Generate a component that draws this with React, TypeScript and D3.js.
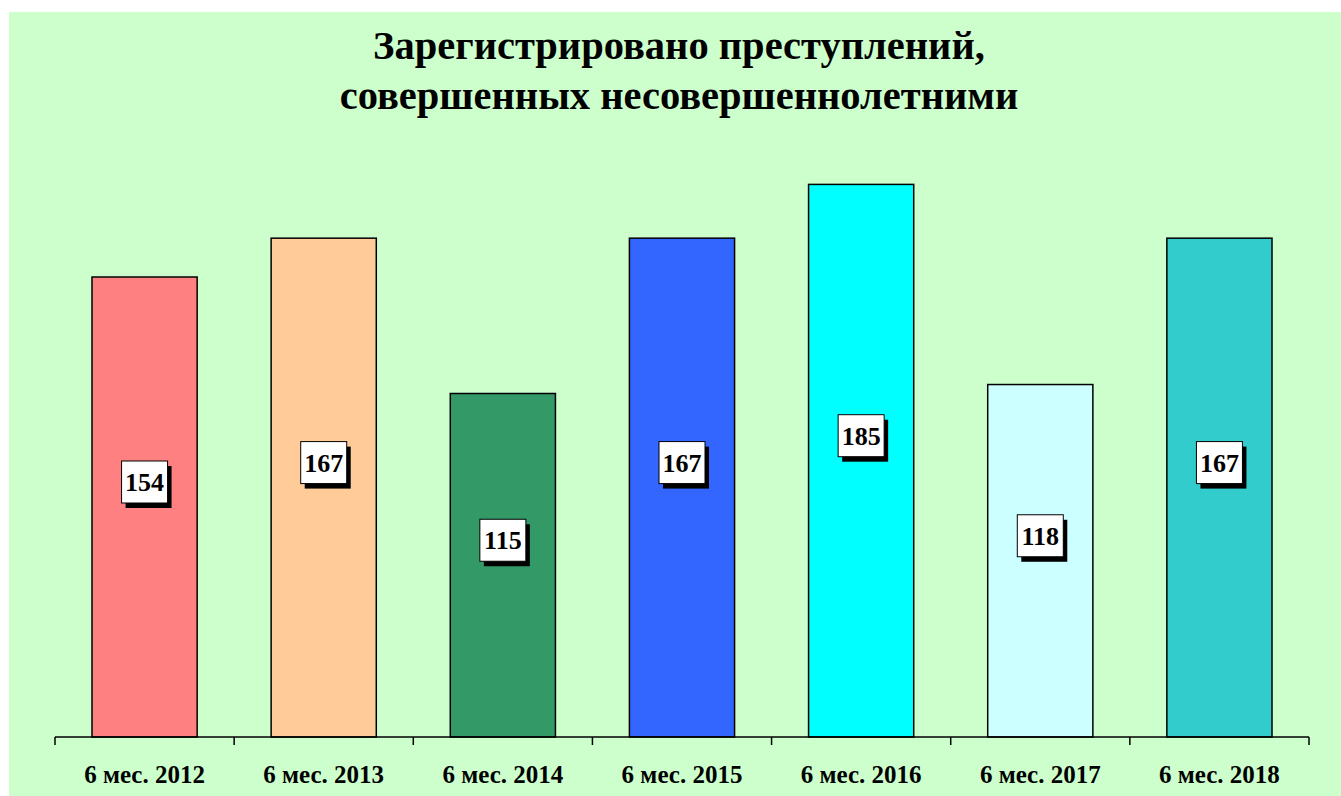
import React from 'react';
import * as d3 from 'd3';

const categories = ['6 мес. 2012', '6 мес. 2013', '6 мес. 2014', '6 мес. 2015', '6 мес. 2016', '6 мес. 2017', '6 мес. 2018'];
const values = [154, 167, 115, 167, 185, 118, 167];
const barColors = ['#FF8080', '#FFCC99', '#339966', '#3366FF', '#00FFFF', '#CCFFFF', '#33CCCC'];
const titleLines = ['Зарегистрировано преступлений,', 'совершенных несовершеннолетними'];

const W = 1341;
const H = 796;
const font = '"Liberation Serif", "Times New Roman", serif';

const App = () => {
  // plot area
  const left = 55;
  const right = 1309;
  const baseY = 737;

  const x = d3.scaleBand<string>().domain(categories).range([left, right]).padding(0);
  const y = d3.scaleLinear().domain([0, 200]).range([baseY, baseY - 200 * 2.987]);

  const barW = x.bandwidth() * 0.587;
  const ticks = [left, ...categories.map(c => (x(c) as number) + x.bandwidth())];

  return (
    <svg width={W} height={H} style={{ position: 'absolute', left: 0, top: 0 }}>
      <rect x={0} y={0} width={W} height={H} fill="#ffffff" />
      <rect x={9} y={12} width={W - 9} height={H - 12} fill="#CCFFCC" />

      {titleLines.map((t, i) => (
        <text key={t} x={679} y={59 + i * 50} textAnchor="middle" fontFamily={font}
          fontWeight="bold" fontSize={40.5} fill="#000">{t}</text>
      ))}

      {categories.map((c, i) => {
        const cx = (x(c) as number) + x.bandwidth() / 2;
        const top = y(values[i]);
        const ly = (top + baseY) / 2 - 25;
        const bw = 46, bh = 42;
        return (
          <g key={c}>
            <rect x={cx - barW / 2} y={top} width={barW} height={baseY - top}
              fill={barColors[i]} stroke="#000" strokeWidth={1.5} />
            <rect x={cx - bw / 2 + 4} y={ly - bh / 2 + 5} width={bw} height={bh} fill="#000" />
            <rect x={cx - bw / 2} y={ly - bh / 2} width={bw} height={bh}
              fill="#fff" stroke="#000" strokeWidth={1} />
            <text x={cx} y={ly + 9} textAnchor="middle" fontFamily={font} fontWeight="bold"
              fontSize={26} fill="#000">{values[i]}</text>
            <text x={cx} y={783} textAnchor="middle" fontFamily={font} fontWeight="bold"
              fontSize={25} fill="#000">{c}</text>
          </g>
        );
      })}

      <line x1={left} x2={right} y1={baseY} y2={baseY} stroke="#000" strokeWidth={1.5} />
      {ticks.map((t, i) => (
        <line key={i} x1={t} x2={t} y1={baseY} y2={baseY + 8} stroke="#000" strokeWidth={1.5} />
      ))}
    </svg>
  );
};

export default App;
